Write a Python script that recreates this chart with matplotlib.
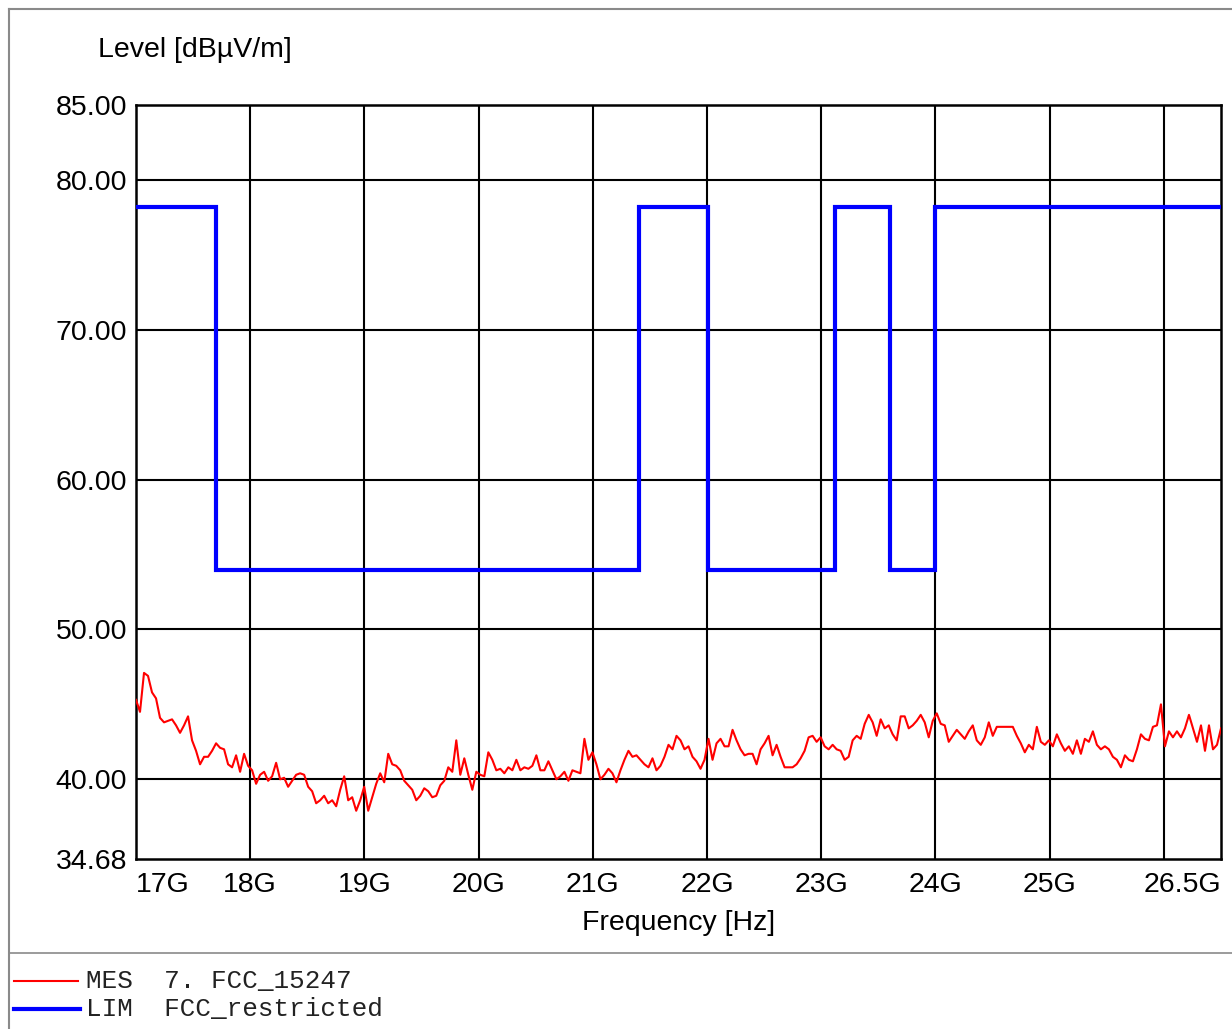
import matplotlib
matplotlib.use("Agg")
import matplotlib.pyplot as plt
from matplotlib.lines import Line2D
import numpy as np

# measured trace, read every ~0.035 GHz from 17 to 26.5 GHz
mes_level = [
    45.3, 44.5, 47.1, 46.9, 45.8, 45.4, 44.1, 43.8, 43.9, 44.0,
    43.6, 43.1, 43.6, 44.2, 42.6, 41.9, 41.0, 41.5, 41.5, 41.9,
    42.4, 42.1, 42.0, 41.0, 40.8, 41.6, 40.5, 41.7, 40.9, 40.6,
    39.7, 40.3, 40.5, 39.9, 40.2, 41.1, 40.0, 40.1, 39.5, 39.9,
    40.3, 40.4, 40.3, 39.5, 39.2, 38.4,
    38.6, 38.9, 38.4, 38.6, 38.2, 39.3, 40.2, 38.6, 38.8, 37.9,
    38.6, 39.5, 37.9, 38.8, 39.7, 40.4, 39.8, 41.7, 41.0, 40.9,
    40.6, 39.9, 39.6, 39.3, 38.6, 38.9, 39.4, 39.2, 38.8, 38.9,
    39.6, 39.9, 40.8, 40.5, 42.6, 40.3, 41.4, 40.3, 39.3, 40.5,
    40.3, 40.2, 41.8, 41.3, 40.6,
    40.7, 40.4, 40.8, 40.6, 41.3, 40.6, 40.8, 40.7, 40.9, 41.6,
    40.6, 40.6, 41.2, 40.6, 40.0, 40.2, 40.5, 39.9, 40.6, 40.5,
    40.4, 42.7, 41.3, 41.8, 41.0, 40.0, 40.3, 40.7, 40.4, 39.8,
    40.6, 41.3, 41.9, 41.5, 41.6, 41.3, 41.0, 40.8, 41.4, 40.6,
    40.9, 41.5, 42.3, 42.0, 42.9,
    42.6, 42.0, 42.2, 41.5, 41.2, 40.7, 41.3, 42.7, 41.3, 42.4,
    42.7, 42.2, 42.2, 43.3, 42.6, 42.0, 41.6, 41.7, 41.7, 41.0,
    42.0, 42.4, 42.9, 41.6, 42.3, 41.5, 40.8, 40.8, 40.8, 41.0,
    41.4, 41.9, 42.8, 42.9, 42.5, 42.8, 42.2, 42.0, 42.3, 42.0,
    41.9, 41.3, 41.5, 42.6, 42.9,
    42.7, 43.7, 44.3, 43.8, 42.9, 44.0, 43.4, 43.6, 43.0, 42.6,
    44.2, 44.2, 43.4, 43.6, 43.9, 44.3, 43.8, 42.8, 43.9, 44.4,
    43.7, 43.6, 42.5, 42.9, 43.3, 43.0, 42.7, 43.2, 43.6, 42.6,
    42.3, 42.8, 43.8, 42.9, 43.5, 43.5, 43.5, 43.5, 43.5, 42.9,
    42.4, 41.8, 42.3, 42.0, 43.5,
    42.5, 42.3, 42.6, 42.2, 43.0, 42.4, 41.9, 42.2, 41.7, 42.6,
    41.7, 42.7, 42.5, 43.2, 42.3, 42.0, 42.2, 42.0, 41.5, 41.3,
    40.8, 41.6, 41.3, 41.2, 42.0, 43.0, 42.7, 42.6, 43.5, 43.6,
    45.0, 42.2, 43.2, 42.8, 43.2, 42.8, 43.4, 44.3, 43.4, 42.5,
    43.6, 41.9, 43.6, 42.0, 42.3, 43.4,
]
mes_freq = np.linspace(17, 26.5, len(mes_level))

# FCC restricted band limit
lim_edges = [17.0, 17.7, 21.4, 22.01, 23.12, 23.6, 24.0, 26.5]
lim_level = [78.2, 54.0, 78.2, 54.0, 78.2, 54.0, 78.2]

x_ticks = [17, 18, 19, 20, 21, 22, 23, 24, 25, 26.5]
x_labels = ["17G", "18G", "19G", "20G", "21G", "22G", "23G", "24G", "25G", "26.5G"]
x_grid = [18, 19, 20, 21, 22, 23, 24, 25, 26]
y_ticks = [34.68, 40, 50, 60, 70, 80, 85]
y_grid = [40, 50, 60, 70, 80]

plt.rcParams["font.family"] = ["Liberation Sans", "DejaVu Sans"]

fig = plt.figure(figsize=(12.32, 10.29), dpi=100)
W, H = 1232, 1029
ax = fig.add_axes([136 / W, 1 - 859 / H, (1221 - 136) / W, (859 - 105) / H])

for g in x_grid:
    ax.axvline(g, color="black", lw=1.5, zorder=1)
for g in y_grid:
    ax.axhline(g, color="black", lw=1.5, zorder=1)

ax.plot(mes_freq, mes_level, color="red", lw=1.5, zorder=3)
ax.stairs(lim_level, lim_edges, baseline=None, color="#0000ff", lw=3, zorder=4)

ax.set_xlim(17, 26.5)
ax.set_ylim(34.68, 85)
ax.set_xticks(x_ticks)
ax.set_xticklabels(x_labels)
ax.set_yticks(y_ticks)
ax.set_yticklabels([f"{v:.2f}" for v in y_ticks])
ax.tick_params(axis="both", length=0, labelsize=20.5)
ax.tick_params(axis="x", pad=9)
ax.tick_params(axis="y", pad=6.5)
xl = ax.get_xticklabels()
xl[0].set_horizontalalignment("left")
xl[-1].set_horizontalalignment("right")
for s in ax.spines.values():
    s.set_linewidth(1.8)
    s.set_color("black")

fig.text(98 / W, 1 - 50 / H, "Level [dBµV/m]", fontsize=20.5, ha="left", va="center")
fig.text(678.5 / W, 1 - 923 / H, "Frequency [Hz]", fontsize=20.5, ha="center", va="center")

# frame and legend separator
border = "#8a8a8a"
fig.add_artist(Line2D([9 / W, 1], [1 - 9 / H, 1 - 9 / H], color=border, lw=1.5))
fig.add_artist(Line2D([9 / W, 9 / W], [0, 1 - 9 / H], color=border, lw=1.5))
fig.add_artist(Line2D([9 / W, 1], [1 - 953 / H, 1 - 953 / H], color=border, lw=1.2))

# legend
fig.add_artist(Line2D([14 / W, 78 / W], [1 - 981 / H, 1 - 981 / H], color="red", lw=1.5))
fig.add_artist(Line2D([14 / W, 80 / W], [1 - 1009 / H, 1 - 1009 / H], color="#0000ff", lw=3))
fig.text(86 / W, 1 - 981 / H, "MES  7. FCC_15247", family="Liberation Mono",
         fontsize=18.7, ha="left", va="center", color="#222222")
fig.text(86 / W, 1 - 1009 / H, "LIM  FCC_restricted", family="Liberation Mono",
         fontsize=18.7, ha="left", va="center", color="#222222")

fig.savefig("out.png", dpi=100)
